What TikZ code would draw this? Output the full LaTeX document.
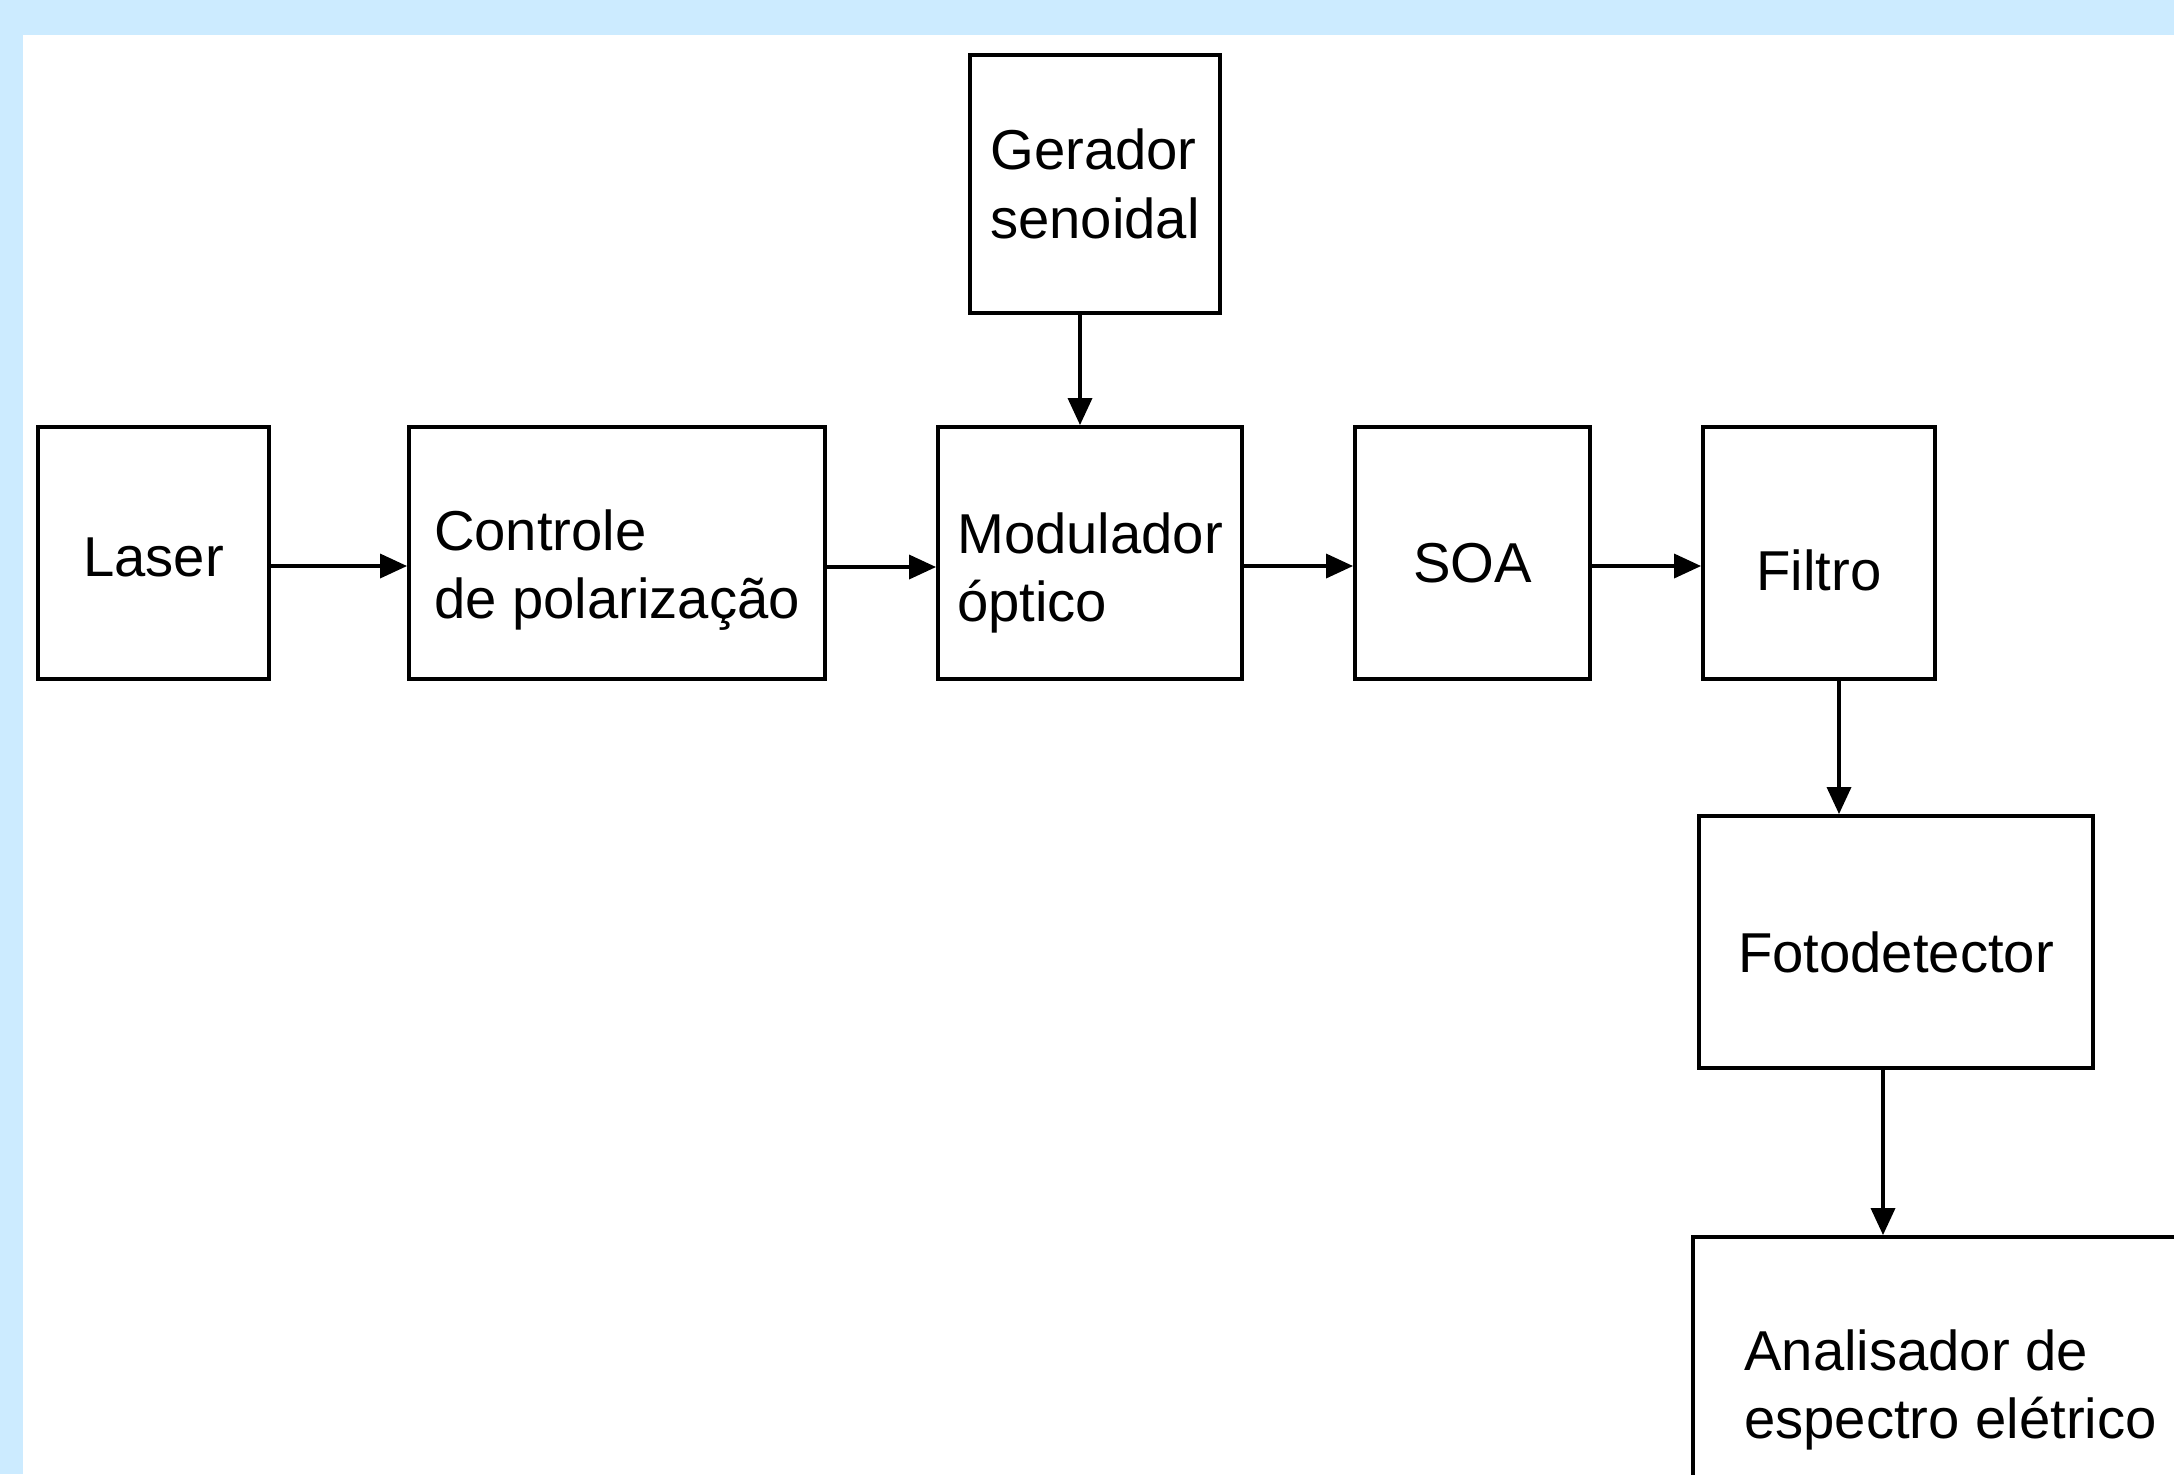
\documentclass[tikz,border=0pt]{standalone}
\usepackage{fontspec}
\setmainfont{Liberation Sans}
\usepackage{xcolor}
\definecolor{bgblue}{RGB}{204,235,255}
\usetikzlibrary{arrows.meta,positioning}
\newcommand{\dnstrut}[1]{\rule{0pt}{#1}}
\tikzset{
  blk/.style={draw, line width=1.1pt, fill=white, font=\fontsize{16}{19.5}\selectfont,
              align=left, inner sep=0pt, minimum width=#1},
  blk/.default=2.3cm,
  arr/.style={line width=1pt, -{Triangle[length=0.27cm, width=0.24cm]}},
}

\begin{document}
\begin{tikzpicture}

% Frame
\useasboundingbox (0,0) rectangle (21.74,-14.74);
\clip (0,0) rectangle (21.74,-14.74);
\fill[bgblue] (0,0) rectangle (21.74,-14.74);
\fill[white] (0.23,-0.35) rectangle (21.74,-14.74);

% Main optical chain
\node[blk=2.31cm, minimum height=2.52cm] (las) at (1.535,-5.53) {\dnstrut{13.8pt}Laser};
\node[blk=4.16cm, minimum height=2.52cm] (pol) at (6.17,-5.53) {\dnstrut{21.3pt}Controle\\de polarização};
\node[blk=3.04cm, minimum height=2.52cm] (mod) at (10.90,-5.53) {\dnstrut{23pt}Modulador\\óptico};
\node[blk=2.35cm, minimum height=2.52cm] (soa) at (14.725,-5.53) {\dnstrut{17pt}SOA};
\node[blk=2.32cm, minimum height=2.52cm] (fil) at (18.19,-5.53) {\dnstrut{21.2pt}Filtro};

% Signal source
\node[blk=2.50cm, minimum height=2.58cm] (ger) at (10.95,-1.84) {Gerador\\senoidal};

% Detection
\node[blk=3.94cm, minimum height=2.52cm] (det) at (18.96,-9.42) {\dnstrut{17.3pt}Fotodetector};
\node[blk=5.15cm, minimum height=3.06cm] (ana) at (19.505,-13.90) {Analisador de\\espectro elétrico};

% Connections
\draw[arr] ([yshift=-0.13cm]las.east) -- ([yshift=-0.13cm]pol.west);
\draw[arr] ([yshift=-0.14cm]pol.east) -- ([yshift=-0.14cm]mod.west);
\draw[arr] ([yshift=-0.13cm]mod.east) -- ([yshift=-0.13cm]soa.west);
\draw[arr] ([yshift=-0.13cm]soa.east) -- ([yshift=-0.13cm]fil.west);
\draw[arr] ([xshift=-0.15cm]ger.south) -- ([xshift=-0.15cm]ger.south |- mod.north);
\draw[arr] ([xshift=0.20cm]fil.south) -- ([xshift=0.20cm]fil.south |- det.north);
\draw[arr] ([xshift=-0.13cm]det.south) -- ([xshift=-0.13cm]det.south |- ana.north);

\end{tikzpicture}
\end{document}
